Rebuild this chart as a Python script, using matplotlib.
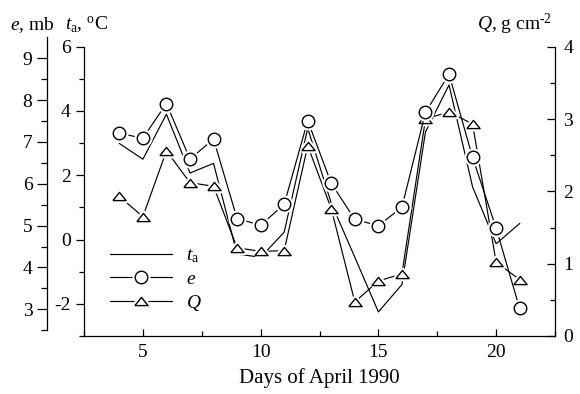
import matplotlib
matplotlib.use('Agg')
import matplotlib.pyplot as plt
from matplotlib.lines import Line2D
from matplotlib.legend_handler import HandlerTuple
from matplotlib.ticker import MultipleLocator
import numpy as np

plt.rcParams['font.family'] = 'Liberation Serif'
plt.rcParams['mathtext.fontset'] = 'custom'
plt.rcParams['mathtext.rm'] = 'Liberation Serif'
plt.rcParams['mathtext.it'] = 'Liberation Serif:italic'
plt.rcParams['axes.unicode_minus'] = False
plt.rcParams['font.size'] = 14

# daily values, April 1990
days = np.arange(4, 22)
t_a = [2.99, 2.50, 3.90, 2.07, 2.37, -0.45, -0.55, 0.23, 3.46, 1.13,
       -0.55, -2.25, -1.40, 3.35, 4.81, 1.64, -0.13, 0.50]
e = [7.21, 7.09, 7.92, 6.59, 7.07, 5.17, 5.01, 5.51, 7.51, 6.01,
     5.15, 5.00, 5.44, 7.71, 8.62, 6.63, 4.94, 3.02]
Q = [1.93, 1.65, 2.56, 2.12, 2.07, 1.22, 1.17, 1.18, 2.63, 1.76,
     0.47, 0.76, 0.86, 3.00, 3.10, 2.93, 1.02, 0.78]

# flat triangle marker
tri = [(-1, -0.62), (1, -0.62), (0, 0.62), (-1, -0.62)]

fig = plt.figure(figsize=(5.8, 3.94), dpi=100)
ax = fig.add_axes([84 / 580, 58 / 394, 471 / 580, 289.3 / 394])
ax_q = ax.twinx()
ax_e = ax.twinx()

lw = 0.85
ax.plot(days, t_a, color='black', lw=lw, zorder=2)

def marked(axis, x, y, marker, ms):
    axis.plot(x, y, color='black', lw=lw, zorder=2)
    axis.plot(x, y, ls='none', marker=marker, ms=ms, mfc='white',
              mec='white', mew=4, zorder=3)
    axis.plot(x, y, ls='none', marker=marker, ms=ms, mfc='white',
              mec='black', mew=1.0, zorder=4)

marked(ax_q, days, Q, tri, 9.5)
marked(ax_e, days, e, 'o', 9)

# t_a axis (inner left)
ax.set_xlim(2.5, 22.5)
ax.set_ylim(-3, 6)
ax.spines['top'].set_visible(False)
ax.spines['right'].set_visible(False)
ax.xaxis.set_major_locator(MultipleLocator(5))
ax.xaxis.set_minor_locator(MultipleLocator(2.5))
ax.yaxis.set_major_locator(MultipleLocator(2))
ax.yaxis.set_minor_locator(MultipleLocator(1))
ax.tick_params(axis='x', which='both', direction='in', top=False)
ax.tick_params(axis='x', which='major', length=5, width=0.9, pad=6)
ax.tick_params(axis='x', which='minor', length=3.5, width=0.9)
ax.tick_params(axis='y', which='major', direction='out', length=6, width=0.9)
ax.tick_params(axis='y', which='minor', direction='out', length=3.5, width=0.9)
ax.set_xlabel('Days of April 1990', labelpad=5, fontsize=15)

# Q axis (right)
ax_q.set_ylim(0, 4)
for s in ['top', 'left', 'bottom']:
    ax_q.spines[s].set_visible(False)
ax_q.yaxis.set_major_locator(MultipleLocator(1))
ax_q.yaxis.set_minor_locator(MultipleLocator(0.5))
ax_q.tick_params(axis='y', which='major', direction='in', length=6, width=0.9, pad=6)
ax_q.tick_params(axis='y', which='minor', direction='in', length=3.5, width=0.9)

# e axis (outer left)
ax_e.set_ylim(2.362, 9.278)
for s in ['top', 'right', 'bottom']:
    ax_e.spines[s].set_visible(False)
ax_e.spines['left'].set_visible(True)
ax_e.spines['left'].set_position(('axes', -37 / 471))
ax_e.spines['left'].set_bounds(2.5, 9.5)
ax_e.yaxis.set_ticks_position('left')
ax_e.yaxis.set_major_locator(MultipleLocator(1))
ax_e.yaxis.set_minor_locator(MultipleLocator(0.5))
ax_e.tick_params(axis='y', which='major', direction='out', length=7, width=0.9)
ax_e.tick_params(axis='y', which='minor', direction='out', length=4, width=0.9)

for a in (ax, ax_q, ax_e):
    for s in a.spines.values():
        s.set_linewidth(0.9)

# axis titles
fig.text(10 / 580, 1 - 30 / 394, r'$e$, mb', ha='left', va='baseline')
fig.text(65 / 580, 1 - 30 / 394, r'$t_{\rm a}$, $^{\rm o}$C', ha='left', va='baseline')
fig.text(477 / 580, 1 - 30 / 394, r'$Q$, g cm$^{\text{-2}}$', ha='left', va='baseline')

# legend
h_t = Line2D([], [], color='black', lw=lw)
def leg_handle(marker, ms):
    return (Line2D([], [], color='black', lw=lw),
            Line2D([], [], ls='none', marker=marker, ms=ms, mfc='white', mec='white', mew=4),
            Line2D([], [], ls='none', marker=marker, ms=ms, mfc='white', mec='black', mew=1.0))
ax.legend([h_t, leg_handle('o', 9), leg_handle(tri, 9.5)],
          [r'$t_{\rm a}$', r'$e$', r'$Q$'],
          handler_map={tuple: HandlerTuple(ndivide=1, pad=0)},
          loc='center left', bbox_to_anchor=(110 / 580, 1 - 280 / 394),
          bbox_transform=fig.transFigure, frameon=False, borderpad=0,
          borderaxespad=0, handlelength=3.2, handletextpad=0.7,
          labelspacing=0.25, numpoints=1)

fig.savefig('out.png', dpi=100)
